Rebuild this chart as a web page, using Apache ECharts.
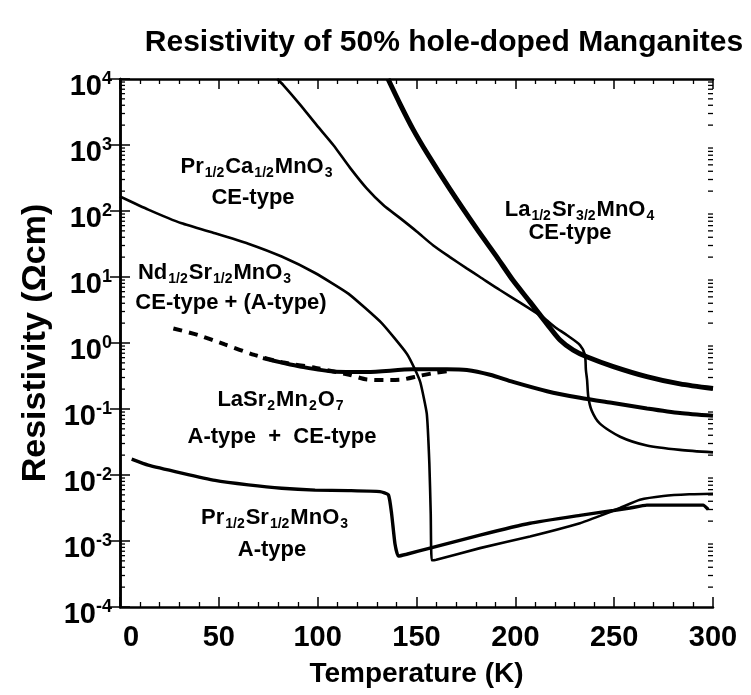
<!DOCTYPE html>
<html>
<head>
<meta charset="utf-8">
<script src="https://cdn.jsdelivr.net/npm/echarts@6/dist/echarts.min.js"></script>
<style>
html,body{margin:0;padding:0;background:#fff;}
#chart{width:751px;height:695px;}
</style>
</head>
<body>
<div id="chart"></div>
<script>
// ---- Data ----
const titleText = 'Resistivity of 50% hole-doped Manganites';
const xTicks = [0, 50, 100, 150, 200, 250, 300];
const decades = [1e-4, 1e-3, 1e-2, 1e-1, 1, 10, 100, 1000];
const minorMult = [2, 3, 4, 5, 6, 7, 8, 9];

// Pr1/2Ca1/2MnO3 (CE-type)
const prCaT   = [79.5, 82.6, 91.1, 99.5, 107.9, 116.4, 124.8, 133.2, 141.7, 150.1, 158.5, 166.9, 175.4, 182.1, 192.2, 202.4, 214, 220, 226, 232.7, 235.2, 235.7, 236.3, 236.9, 238.6, 242.8, 253, 266.5, 283.3, 300];
const prCaRho = [10000, 8100, 4100, 2000, 1000, 450, 220, 123, 78, 49, 30, 20, 13.5, 10, 6.35, 4.1, 2.45, 1.75, 1.32, 0.93, 0.66, 0.39, 0.275, 0.155, 0.095, 0.060, 0.038, 0.028, 0.024, 0.022];

// La1/2Sr3/2MnO4 (CE-type)
const laSrT   = [135.6, 141.7, 148.2, 155.3, 166.9, 180.6, 190.7, 198.8, 207.4, 216, 222.6, 229.3, 236.1, 249.6, 266.5, 283.3, 300];
const laSrRho = [10000, 4170, 1740, 755, 214, 53, 20, 8.9, 4.2, 1.95, 1.11, 0.78, 0.62, 0.44, 0.31, 0.24, 0.204];

// Nd1/2Sr1/2MnO3 (CE-type + (A-type))
const ndT   = [0, 14.3, 31.2, 48.1, 64.9, 81.8, 98.7, 115.5, 132.4, 145.1, 149.2, 152, 155.2, 156.5, 157.2, 157.7, 160, 182.1, 207.4, 232.7, 242.8, 252.9, 263, 274.9, 288, 300];
const ndRho = [166, 105, 65, 46, 32, 20.4, 11.5, 5.6, 2.0, 0.69, 0.40, 0.25, 0.085, 0.015, 0.0026, 0.00051, 0.00052, 0.00078, 0.00117, 0.00186, 0.0024, 0.00316, 0.0042, 0.0048, 0.0051, 0.0052];

// LaSr2Mn2O7 (A-type + CE-type), solid
const laMnT   = [72.3, 82.5, 91.1, 107.8, 125, 148.2, 165.4, 175.5, 187.2, 198.8, 216, 232.7, 249.4, 266.6, 283.3, 300];
const laMnRho = [0.59, 0.50, 0.44, 0.37, 0.363, 0.40, 0.40, 0.39, 0.33, 0.257, 0.186, 0.148, 0.123, 0.102, 0.087, 0.079];
// LaSr2Mn2O7, dashed
const laMnDashT   = [27, 39.6, 53, 68, 82, 99, 116, 125, 135, 143, 152, 160, 168];
const laMnDashRho = [1.66, 1.32, 0.95, 0.66, 0.51, 0.42, 0.33, 0.28, 0.275, 0.28, 0.32, 0.355, 0.38];

// Pr1/2Sr1/2MnO3 (A-type)
const prSrT   = [5.9, 14.3, 31.2, 48.1, 64.9, 81.8, 98.7, 115.5, 131.5, 135.8, 137.4, 139.1, 140.8, 145, 156.8, 182.1, 207.4, 232.7, 249.6, 258, 266.5, 283.3, 295, 297.6];
const prSrRho = [0.0174, 0.0141, 0.0107, 0.0083, 0.0071, 0.0063, 0.0059, 0.0058, 0.0056, 0.0050, 0.0026, 0.00091, 0.00059, 0.00063, 0.00078, 0.00123, 0.00186, 0.00245, 0.0029, 0.00316, 0.0035, 0.0035, 0.0035, 0.0030];

const yMinorTicks = [];
decades.forEach(d => minorMult.forEach(m => yMinorTicks.push(d * m)));

function pairs(xs, ys) { return xs.map((x, i) => [x, ys[i]]); }

const FONT = '"Liberation Sans", Arial, Helvetica, sans-serif';
const BLACK = '#000';

const chart = echarts.init(document.getElementById('chart'), null, { renderer: 'canvas' });

const lineBase = { type: 'line', showSymbol: false, symbol: 'none', smooth: 0.25, animation: false, z: 3 };

const labelDefs = [
  { x: 257, y: 167, t: '{m|Pr}{s|1/2}{m|Ca}{s|1/2}{m|MnO}{s|3}' },
  { x: 253, y: 198, t: '{m|CE-type}' },
  { x: 580, y: 210, t: '{m|La}{s|1/2}{m|Sr}{s|3/2}{m|MnO}{s|4}' },
  { x: 570, y: 233, t: '{m|CE-type}' },
  { x: 215, y: 273, t: '{m|Nd}{s|1/2}{m|Sr}{s|1/2}{m|MnO}{s|3}' },
  { x: 231, y: 303, t: '{m|CE-type + (A-type)}' },
  { x: 281, y: 400, t: '{m|LaSr}{s|2}{m|Mn}{s|2}{m|O}{s|7}' },
  { x: 282, y: 437, t: '{m|A-type  +  CE-type}' },
  { x: 275, y: 518, t: '{m|Pr}{s|1/2}{m|Sr}{s|1/2}{m|MnO}{s|3}' },
  { x: 272, y: 550, t: '{m|A-type}' }
];

const option = {
  backgroundColor: '#fff',
  animation: false,
  title: {
    text: titleText,
    left: 439, top: 23, textAlign: 'center',
    textStyle: { fontFamily: FONT, fontSize: 30, fontWeight: 'bold', color: BLACK }
  },
  grid: { left: 120, right: 38, top: 79, bottom: 88, containLabel: false },
  xAxis: [{
    type: 'value', min: 0, max: 300, interval: 50, position: 'bottom',
    name: 'Temperature (K)', nameLocation: 'middle', nameGap: 53,
    nameTextStyle: { fontFamily: FONT, fontSize: 28, fontWeight: 'bold', color: BLACK },
    axisLine: { lineStyle: { color: BLACK, width: 2.5 } },
    axisTick: { inside: true, length: 10, lineStyle: { color: BLACK, width: 1.5 } },
    minorTick: { show: true, splitNumber: 5, length: 5, lineStyle: { color: BLACK, width: 1.3 } },
    axisLabel: {
      fontFamily: FONT, fontSize: 29, fontWeight: 'bold', color: BLACK, margin: 16,
      formatter: v => (v === 0 ? '{z|0}' : String(v)),
      rich: { z: { fontFamily: FONT, fontSize: 29, fontWeight: 'bold', color: BLACK, padding: [0, 0, 0, 22] } }
    },
    splitLine: { show: false }
  }, {
    type: 'value', min: 0, max: 300, interval: 50, position: 'top',
    axisLine: { lineStyle: { color: BLACK, width: 2.5 } },
    axisTick: { inside: true, length: 10, lineStyle: { color: BLACK, width: 1.5 } },
    minorTick: { show: true, splitNumber: 5, length: 5, lineStyle: { color: BLACK, width: 1.3 } },
    axisLabel: { show: false }, splitLine: { show: false }
  }],
  yAxis: [{
    type: 'log', logBase: 10, min: 1e-4, max: 1e4, position: 'left',
    name: 'Resistivity (\u03A9cm)', nameLocation: 'middle', nameGap: 67, nameRotate: 90,
    nameTextStyle: { fontFamily: FONT, fontSize: 34, fontWeight: 'bold', color: BLACK },
    axisLine: { show: true, lineStyle: { color: BLACK, width: 2.5 } },
    axisTick: { inside: true, length: 10, lineStyle: { color: BLACK, width: 1.5 } },
    axisLabel: {
      margin: 8,
      padding: [16, 0, 0, 0],
      formatter: v => '{b|10}{e|' + Math.round(Math.log10(v)) + '}',
      rich: {
        b: { fontFamily: FONT, fontSize: 29, fontWeight: 'bold', color: BLACK },
        e: { fontFamily: FONT, fontSize: 18, fontWeight: 'bold', color: BLACK, padding: [0, 0, 16, 0] }
      }
    },
    splitLine: { show: false }
  }, {
    type: 'log', logBase: 10, min: 1e-4, max: 1e4, position: 'right',
    axisLine: { show: true, lineStyle: { color: BLACK, width: 2.5 } },
    axisTick: { inside: true, length: 10, lineStyle: { color: BLACK, width: 1.5 } },
    axisLabel: { show: false }, splitLine: { show: false }
  }],
  series: [
    Object.assign({}, lineBase, { name: 'Pr1/2Ca1/2MnO3', data: pairs(prCaT, prCaRho), lineStyle: { color: BLACK, width: 2.6 } }),
    Object.assign({}, lineBase, { name: 'La1/2Sr3/2MnO4', data: pairs(laSrT, laSrRho), lineStyle: { color: BLACK, width: 5 } }),
    Object.assign({}, lineBase, { name: 'Nd1/2Sr1/2MnO3', data: pairs(ndT, ndRho), smooth: 0.15, lineStyle: { color: BLACK, width: 2.6 } }),
    Object.assign({}, lineBase, { name: 'LaSr2Mn2O7', data: pairs(laMnT, laMnRho), lineStyle: { color: BLACK, width: 4 } }),
    Object.assign({}, lineBase, { name: 'LaSr2Mn2O7 dashed', data: pairs(laMnDashT, laMnDashRho), lineStyle: { color: BLACK, width: 4, type: [9, 7] } }),
    Object.assign({}, lineBase, { name: 'Pr1/2Sr1/2MnO3', data: pairs(prSrT, prSrRho), smooth: 0.15, lineStyle: { color: BLACK, width: 3.4 } }),
    {
      type: 'custom', name: 'yMinorTicks', silent: true, z: 4,
      data: yMinorTicks.map(v => [0, v]),
      renderItem: function (params, api) {
        const v = api.value(1);
        const pl = api.coord([0, v]);
        const pr = api.coord([300, v]);
        return {
          type: 'group',
          children: [
            { type: 'line', shape: { x1: pl[0], y1: pl[1], x2: pl[0] + 5, y2: pl[1] }, style: { stroke: BLACK, lineWidth: 1.3 } },
            { type: 'line', shape: { x1: pr[0], y1: pr[1], x2: pr[0] - 5, y2: pr[1] }, style: { stroke: BLACK, lineWidth: 1.3 } }
          ]
        };
      }
    }
  ],
  graphic: labelDefs.map(l => ({
    type: 'text', x: l.x, y: l.y, z: 10,
    style: {
      text: l.t, align: 'center', verticalAlign: 'middle',
      rich: {
        m: { fontFamily: FONT, fontSize: 22, fontWeight: 'bold', fill: BLACK, color: BLACK },
        s: { fontFamily: FONT, fontSize: 14, fontWeight: 'bold', fill: BLACK, color: BLACK, padding: [13, 1, 0, 1] }
      }
    }
  }))
};
chart.setOption(option);
</script>
</body>
</html>
